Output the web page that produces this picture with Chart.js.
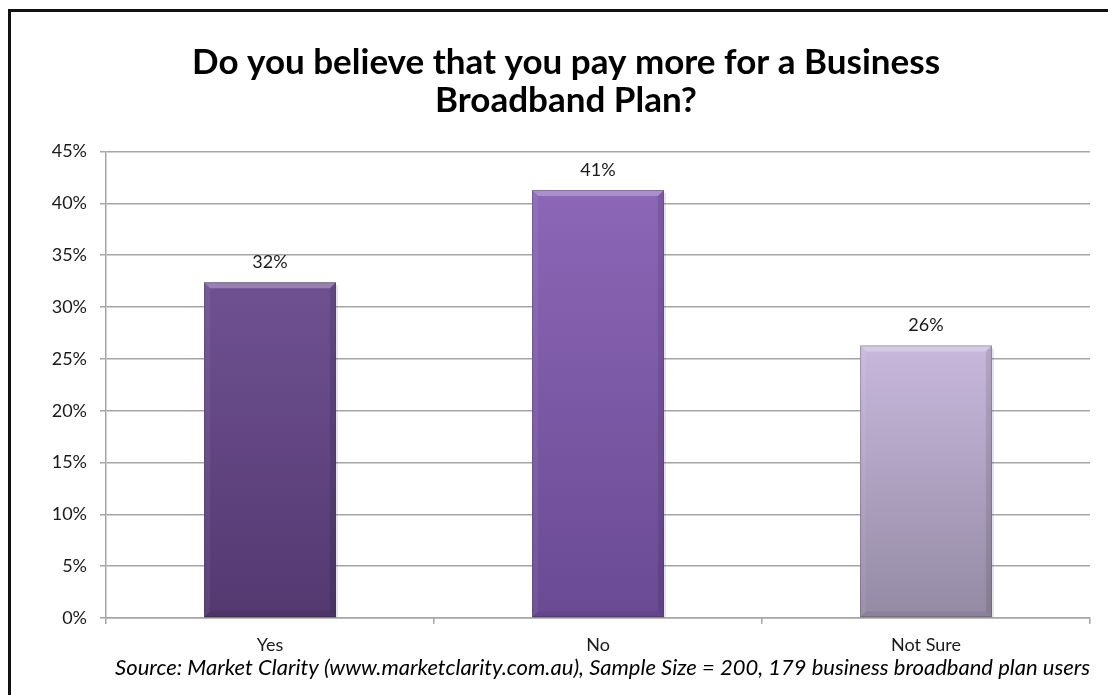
<!DOCTYPE html>
<html>
<head>
<meta charset="utf-8">
<script src="https://cdn.jsdelivr.net/npm/chart.js@4.4.1/dist/chart.umd.min.js"></script>
<style>
  html, body { margin: 0; padding: 0; background: #fff; overflow: hidden; }
  #wrap { position: relative; width: 1108px; height: 695px; }
  #frame {
    position: absolute; left: 8px; top: 9px;
    width: 2000px; height: 2000px;
    border: 3px solid #111; pointer-events: none;
  }
</style>
</head>
<body>
<div id="wrap">
  <canvas id="broadbandChart"></canvas>
  <div id="frame"></div>
</div>
<script>
// survey answers
var categories = ['Yes', 'No', 'Not Sure'];
var shares = [32.4, 41.3, 26.3];
var shareLabels = ['32%', '41%', '26%'];
var yMax = 45;
var yStep = 5;

var titleLines = ['Do you believe that you pay more for a Business', 'Broadband Plan?'];
var sourceNote = 'Source: Market Clarity (www.marketclarity.com.au), Sample Size = 200, 179 business broadband plan users';

// each bar gets its own purple, lighter at the top
var barTop = ['#6f5192', '#8c66b7', '#c7b8dc'];
var barBottom = ['#533870', '#6a4a93', '#948aa4'];

var FONT = 'Lato, "Open Sans", sans-serif';

function barFill(context) {
	var chart = context.chart;
	var area = chart.chartArea;
	if (!area) return barTop[context.dataIndex];
	var y = chart.scales.y;
	var top = y.getPixelForValue(shares[context.dataIndex]);
	var bottom = y.getPixelForValue(0);
	var g = chart.ctx.createLinearGradient(0, top, 0, bottom);
	g.addColorStop(0, barTop[context.dataIndex]);
	g.addColorStop(1, barBottom[context.dataIndex]);
	return g;
}

// bevelled edges and value labels on the bars
var barDecor = {
	id: 'barDecor',
	afterDatasetsDraw: function(chart) {
		var ctx = chart.ctx;
		var meta = chart.getDatasetMeta(0);
		meta.data.forEach(function(bar, i) {
			var left = bar.x - bar.width / 2;
			var right = bar.x + bar.width / 2;
			var top = bar.y;
			var bottom = bar.base;
			var b = 6;
			ctx.save();
			// top highlight
			ctx.fillStyle = 'rgba(255,255,255,0.28)';
			ctx.beginPath();
			ctx.moveTo(left, top);
			ctx.lineTo(right, top);
			ctx.lineTo(right - b, top + b);
			ctx.lineTo(left + b, top + b);
			ctx.closePath();
			ctx.fill();
			// right and bottom shade
			ctx.fillStyle = 'rgba(0,0,0,0.10)';
			ctx.beginPath();
			ctx.moveTo(right, top);
			ctx.lineTo(right, bottom);
			ctx.lineTo(right - b, bottom - b);
			ctx.lineTo(right - b, top + b);
			ctx.closePath();
			ctx.fill();
			ctx.fillStyle = 'rgba(0,0,0,0.06)';
			ctx.beginPath();
			ctx.moveTo(left, bottom);
			ctx.lineTo(right, bottom);
			ctx.lineTo(right - b, bottom - b);
			ctx.lineTo(left + b, bottom - b);
			ctx.closePath();
			ctx.fill();
			// left edge
			ctx.fillStyle = 'rgba(255,255,255,0.06)';
			ctx.beginPath();
			ctx.moveTo(left, top);
			ctx.lineTo(left + b, top + b);
			ctx.lineTo(left + b, bottom - b);
			ctx.lineTo(left, bottom);
			ctx.closePath();
			ctx.fill();
			// outline and a soft shadow on the right
			ctx.strokeStyle = 'rgba(0,0,0,0.22)';
			ctx.lineWidth = 1;
			ctx.strokeRect(left + 0.5, top + 0.5, bar.width - 1, bottom - top - 1);
			ctx.fillStyle = 'rgba(0,0,0,0.10)';
			ctx.fillRect(right, top + 3, 2, bottom - top - 3);

			ctx.fillStyle = '#1a1a1a';
			ctx.font = '18px ' + FONT;
			ctx.textAlign = 'center';
			ctx.textBaseline = 'middle';
			ctx.fillText(shareLabels[i], bar.x, top - 20);
			ctx.restore();
		});
	},
	afterDraw: function(chart) {
		var ctx = chart.ctx;
		ctx.save();
		ctx.fillStyle = '#000';
		ctx.font = 'italic 22px ' + FONT;
		ctx.textAlign = 'right';
		ctx.textBaseline = 'middle';
		ctx.fillText(sourceNote, chart.chartArea.right, 668);
		ctx.restore();
	}
};

var ctx = document.getElementById('broadbandChart');

var barGraph = new Chart(ctx, {
	type: 'bar',
	data: {
		labels: categories,
		datasets: [{
			data: shares,
			backgroundColor: barFill,
			borderWidth: 0,
			categoryPercentage: 1,
			barPercentage: 0.402
		}]
	},
	options: {
		responsive: true,
		maintainAspectRatio: false,
		animation: false,
		layout: { padding: { left: 24, right: 0, top: 0, bottom: 0 } },
		plugins: {
			legend: { display: false },
			tooltip: { enabled: false },
			title: {
				display: true,
				text: titleLines,
				color: '#000',
				font: { family: FONT, size: 35, weight: 'bold', lineHeight: 1.08 },
				padding: { top: 44, bottom: 32 }
			}
		},
		scales: {
			x: {
				offset: true,
				grid: { drawOnChartArea: false, offset: true, tickLength: 6, color: '#a6a6a6', lineWidth: 1.5 },
				border: { color: '#a6a6a6', width: 1.5 },
				ticks: { color: '#1a1a1a', padding: 10, font: { family: FONT, size: 18 } },
				afterFit: function(scale) { scale.height = 77; }
			},
			y: {
				min: 0,
				max: yMax,
				grid: { color: '#a6a6a6', lineWidth: 1.5, tickLength: 6 },
				border: { color: '#a6a6a6', width: 1.5 },
				ticks: {
					stepSize: yStep,
					color: '#1a1a1a',
					padding: 13,
					font: { family: FONT, size: 18 },
					callback: function(v) { return v + '%'; }
				},
				afterFit: function(scale) { scale.width = 82; }
			},
			edge: {
				position: 'right',
				display: true,
				grid: { display: false },
				border: { display: false },
				ticks: { display: false },
				afterFit: function(scale) { scale.width = 18; }
			}
		}
	},
	plugins: [barDecor]
});
</script>
</body>
</html>
